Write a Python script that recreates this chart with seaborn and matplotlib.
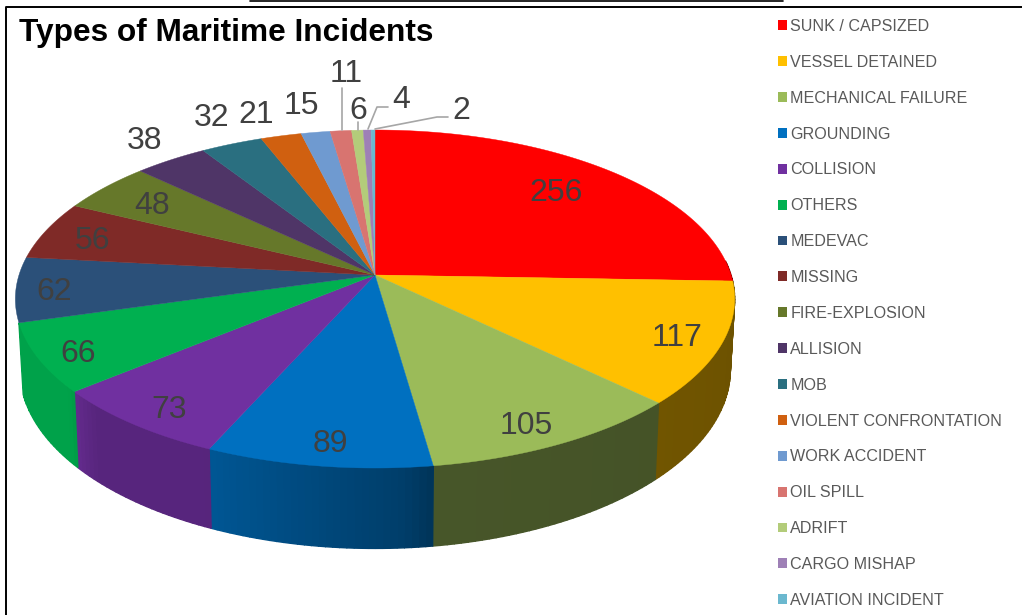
import numpy as np
import matplotlib
matplotlib.use("Agg")
import matplotlib.pyplot as plt
from matplotlib.patches import Patch
import seaborn as sns

categories = ["SUNK / CAPSIZED", "VESSEL DETAINED", "MECHANICAL FAILURE", "GROUNDING",
              "COLLISION", "OTHERS", "MEDEVAC", "MISSING", "FIRE-EXPLOSION", "ALLISION",
              "MOB", "VIOLENT CONFRONTATION", "WORK ACCIDENT", "OIL SPILL", "ADRIFT",
              "CARGO MISHAP", "AVIATION INCIDENT"]
values = [256, 117, 105, 89, 73, 66, 62, 56, 48, 38, 32, 21, 15, 11, 6, 4, 2]
colors = ["#ff0000", "#ffc000", "#9bbb59", "#0070c0", "#7030a0", "#00b050", "#2b5079",
          "#7f2a27", "#66782a", "#4f3567", "#2a6f80", "#d06010", "#6f9ad0", "#d87470",
          "#b3cc7a", "#9e80b6", "#6bb8cf"]

# label centres in pixels
label_x = [556, 677, 526, 330, 169, 78, 54, 92, 152, 145, 212, 256, 301, 346, 358, 401, 461]
label_y = [193, 338, 426, 444, 410, 354, 292, 241, 206, 141, 118, 115, 106, 74, 111, 100, 111]

sns.set_theme(style="white")
plt.rcParams["font.family"] = ["Liberation Sans", "DejaVu Sans"]
palette = sns.color_palette(colors)

# pie geometry (pixels), the disc is seen in perspective
CX, CY = 375, 275
RX, RY = 356, 165.6
PERSP = 0.142
DEPTH = 69


def project(theta, drop=0.0):
    u = np.sin(theta)
    v = np.cos(theta)
    w = 1 + PERSP * v
    # the lower rim sits a little further in than the top one
    shrink = 1 - 0.012 * drop / DEPTH
    return CX + RX * shrink * u / w, CY - RY * v / w + drop / w


def wall_shade(deg):
    return np.interp(deg, [90, 130, 172, 176, 205, 225, 232, 262],
                     [0.42, 0.44, 0.46, 0.55, 0.78, 0.78, 0.92, 0.92])


fig = plt.figure(figsize=(10.22, 6.15), dpi=100)
ax = fig.add_axes([0, 0, 1, 1])
ax.set_xlim(0, 1022)
ax.set_ylim(615, 0)
ax.axis("off")

edges = np.cumsum([0] + values) / sum(values) * 2 * np.pi

# side wall first, top face goes over it
for i in range(len(values)):
    t0, t1 = edges[i], edges[i + 1]
    n = max(2, int(np.degrees(t1 - t0)))
    steps = np.linspace(t0, t1, n + 1)
    for a, b in zip(steps[:-1], steps[1:]):
        deg = np.degrees((a + b) / 2)
        if deg < 85 or deg > 254:
            continue
        shade = tuple(c * wall_shade(deg) for c in palette[i])
        seg = np.array([a, b])
        x1, y1 = project(seg)
        x2, y2 = project(seg[::-1], drop=DEPTH)
        ax.fill(np.r_[x1, x2], np.r_[y1, y2], color=shade, lw=1.0, zorder=2)

for i in range(len(values)):
    arc = np.linspace(edges[i], edges[i + 1], max(3, int(values[i] * 1.5)))
    x, y = project(arc)
    ax.fill(np.r_[CX, x], np.r_[CY, y], color=palette[i], lw=0.3, zorder=3)

for val, lx, ly in zip(values, label_x, label_y):
    ax.text(lx, ly, str(val), fontsize=23, color="#404040", ha="center", va="center", zorder=5)

# leader lines of the small slices
leader = dict(color="#a6a6a6", lw=1.2, zorder=4)
ax.plot([342, 342], [88, 130], **leader)
ax.plot([358, 358], [122, 130], **leader)
ax.plot([388, 377, 368], [107, 107, 129], **leader)
ax.plot([448, 437, 375], [117, 117, 129], **leader)

ax.text(19, 33, "Types of Maritime Incidents", fontsize=22.8, fontweight="bold",
        color="black", ha="left", va="center")

handles = [Patch(facecolor=c, edgecolor="none") for c in palette]
ax.legend(handles, categories, loc="upper left", bbox_to_anchor=(778, 19),
          bbox_transform=ax.transData, frameon=False, fontsize=11.65, labelcolor="#595959",
          borderpad=0, borderaxespad=0, handlelength=0.56, handleheight=0.56,
          handletextpad=0.2, labelspacing=1.29)

# picture frame and the cut off line above it
ax.plot([6, 6, 1022], [615, 7, 7], color="black", lw=1.4, zorder=6)
ax.plot([250, 783], [0.5, 0.5], color="black", lw=1.2, zorder=6)

fig.savefig("out.png", dpi=100)
